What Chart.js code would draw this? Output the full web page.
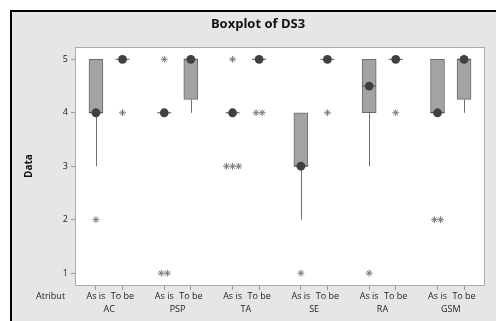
<!DOCTYPE html>
<html>
<head>
<meta charset="utf-8">
<script src="https://cdn.jsdelivr.net/npm/chart.js@4/dist/chart.umd.min.js"></script>
<style>
    html, body { margin: 0; padding: 0; background: #fff; }
    #frame { position: absolute; left: 10px; top: 10px; right: 0; bottom: 0; background: #e6e6e6;
             border-left: 2px solid #000; border-top: 2px solid #000; }
    #wrap { position: absolute; left: 0; top: 0; width: 496px; height: 321px; }
</style>
</head>
<body>
<div id="frame"></div>
<div id="wrap"><canvas id="c"></canvas></div>
<script>
/* ==================== DATA ==================== */
const groups = ['AC', 'PSP', 'TA', 'SE', 'RA', 'GSM'];
const conditions = ['As is', 'To be'];
// one entry per box, in order AC As is, AC To be, PSP As is, ...
const q1 = [4, 5, 4, 4.25, 4, 5, 3, 5, 4, 5, 4, 4.25];
const q3 = [5, 5, 4, 5, 4, 5, 4, 5, 5, 5, 5, 5];
const medians = [4, 5, 4, 5, 4, 5, 3, 5, 4.5, 5, 4, 5];
const whiskerLow = [3, 5, 4, 4, 4, 5, 2, 5, 3, 5, 4, 4];
const whiskerHigh = [5, 5, 4, 5, 4, 5, 4, 5, 5, 5, 5, 5];
// outliers per box: [value, how many]
const outliers = [
    [[2, 1]], [[4, 1]],
    [[5, 1], [1, 2]], [],
    [[5, 1], [3, 3]], [[4, 2]],
    [[1, 1]], [[4, 1]],
    [[1, 1]], [[4, 1]],
    [[2, 2]], []
];
const yTicks = [1, 2, 3, 4, 5];

/* ==================== LAYOUT ==================== */
const GROUP_STEP = 2.574;   // distance between groups, in box units
const DUP_STEP = 0.23;      // sideways shift for repeated outliers
const FONT = '"Open Sans", "Noto Sans", sans-serif';

const pos = (i) => Math.floor(i / 2) * GROUP_STEP + (i % 2);
const boxPos = q1.map((_, i) => pos(i));
const groupPos = groups.map((_, g) => g * GROUP_STEP + 0.5);
const xMin = -0.79;
const xMax = pos(q1.length - 1) + 0.79;

const boxData = boxPos.map((x, i) => ({ x: x, y: [q1[i], q3[i]] }));
const medData = boxPos.map((x, i) => ({ x: x, y: medians[i] }));
const outData = [];
outliers.forEach((list, i) => {
    list.forEach(([v, n]) => {
        for (let k = 0; k < n; k++) {
            outData.push({ x: boxPos[i] + (k - (n - 1) / 2) * DUP_STEP, y: v });
        }
    });
});

/* ==================== PLUGINS ==================== */
const decor = {
    id: 'decor',
    beforeDraw(chart) {
        const { ctx, chartArea: a } = chart;
        ctx.save();
        ctx.fillStyle = '#fff';
        ctx.fillRect(a.left, a.top, a.right - a.left, a.bottom - a.top);
        ctx.restore();
    },
    beforeDatasetsDraw(chart) {
        const { ctx, scales: { x, y } } = chart;
        ctx.save();
        ctx.strokeStyle = '#6e6e6e';
        ctx.lineWidth = 1;
        boxPos.forEach((bx, i) => {
            const px = Math.round(x.getPixelForValue(bx)) + 0.5;
            ctx.beginPath();
            ctx.moveTo(px, y.getPixelForValue(whiskerLow[i]));
            ctx.lineTo(px, y.getPixelForValue(q1[i]));
            ctx.moveTo(px, y.getPixelForValue(q3[i]));
            ctx.lineTo(px, y.getPixelForValue(whiskerHigh[i]));
            ctx.stroke();
        });
        ctx.restore();
    },
    afterDraw(chart) {
        const { ctx, chartArea: a } = chart;
        ctx.save();
        ctx.strokeStyle = '#ababab';
        ctx.lineWidth = 1;
        ctx.strokeRect(a.left + 0.5, a.top + 0.5, a.right - a.left - 1, a.bottom - a.top - 1);

        ctx.fillStyle = '#111';
        ctx.textAlign = 'center';
        ctx.textBaseline = 'middle';
        ctx.font = 'bold 13px ' + FONT;
        ctx.fillText('Boxplot of DS3', 258, 24);

        ctx.font = 'bold 10px ' + FONT;
        ctx.translate(29, 166);
        ctx.rotate(-Math.PI / 2);
        ctx.fillText('Data', 0, 0);
        ctx.restore();

        ctx.save();
        ctx.fillStyle = '#222';
        ctx.font = '9px ' + FONT;
        ctx.textAlign = 'left';
        ctx.textBaseline = 'middle';
        ctx.fillText('Atribut', 36, 296);
        ctx.restore();
    }
};

/* ==================== CHART ==================== */
const tickFont = { family: FONT, size: 9 };

new Chart(document.getElementById('c'), {
    data: {
        datasets: [
            {
                type: 'bar', data: boxData, order: 4,
                backgroundColor: '#a3a3a3', borderColor: '#6b6b6b', borderWidth: 1,
                borderSkipped: false, barThickness: 14,
            },
            {
                type: 'scatter', data: medData, order: 3,
                pointStyle: 'line', pointRadius: 7, borderColor: '#555', borderWidth: 1,
            },
            {
                type: 'scatter', data: medData, order: 2,
                pointStyle: 'circle', pointRadius: 4.4, backgroundColor: '#404040', borderColor: '#404040', borderWidth: 0,
            },
            {
                type: 'scatter', data: outData, order: 1,
                pointStyle: 'star', pointRadius: 3.4, borderColor: '#7a7a7a', borderWidth: 1,
            },
        ],
    },
    options: {
        responsive: true,
        maintainAspectRatio: false,
        animation: false,
        layout: { padding: { top: 47, right: 11, bottom: 5, left: 0 } },
        plugins: { legend: { display: false }, tooltip: { enabled: false } },
        scales: {
            x: {
                type: 'linear', position: 'bottom', min: xMin, max: xMax, offset: false,
                afterBuildTicks: (s) => { s.ticks = boxPos.map((v) => ({ value: v })); },
                afterFit: (s) => { s.height = 16; },
                ticks: {
                    font: tickFont, color: '#222', padding: 1, maxRotation: 0, autoSkip: false,
                    callback: (v, i) => conditions[i % 2],
                },
                grid: { drawOnChartArea: false, offset: false, tickLength: 4, color: '#9a9a9a' },
                border: { display: false },
            },
            x2: {
                type: 'linear', position: 'bottom', min: xMin, max: xMax, offset: false,
                afterBuildTicks: (s) => { s.ticks = groupPos.map((v) => ({ value: v })); },
                afterFit: (s) => { s.height = 14; },
                ticks: {
                    font: tickFont, color: '#222', padding: 2, maxRotation: 0, autoSkip: false,
                    callback: (v, i) => groups[i],
                },
                grid: { display: false, drawTicks: false, offset: false },
                border: { display: false },
            },
            y: {
                type: 'linear', min: 0.76, max: 5.23,
                afterBuildTicks: (s) => { s.ticks = yTicks.map((v) => ({ value: v })); },
                afterFit: (s) => { s.width = 75; },
                ticks: { font: tickFont, color: '#222', padding: 3 },
                grid: { drawOnChartArea: false, tickLength: 4, color: '#9a9a9a' },
                border: { display: false },
            },
        },
    },
    plugins: [decor],
});
</script>
</body>
</html>
